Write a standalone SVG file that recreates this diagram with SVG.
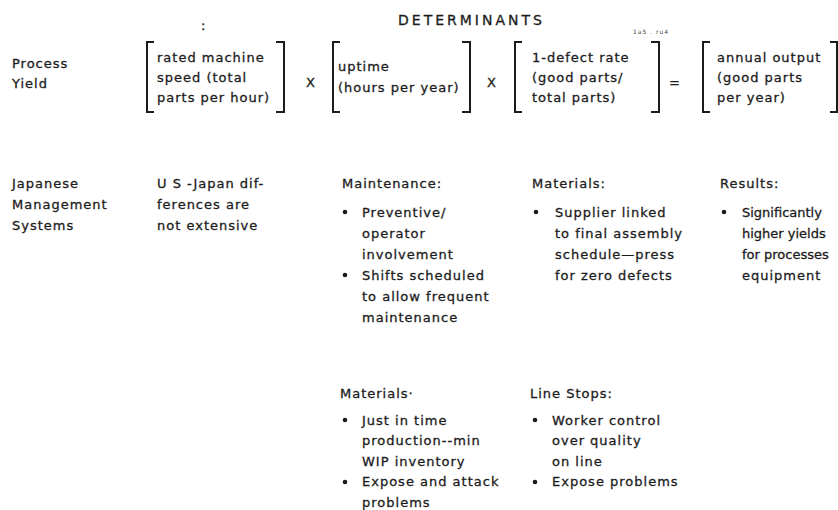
<svg xmlns="http://www.w3.org/2000/svg" width="838" height="510" viewBox="0 0 838 510">
  <style>
    .t { font-family: "DejaVu Sans", "Liberation Sans", sans-serif; font-size: 13px; letter-spacing: 1px; fill: #1c1c1c; stroke: #1c1c1c; stroke-width: 0.3; }
    .h { font-size: 14px; letter-spacing: 3px; }
    .tiny { font-size: 6px; letter-spacing: 1px; fill: #444; stroke: none; }
    .edge { letter-spacing: 0; }
    .br { fill: none; stroke: #1c1c1c; stroke-width: 2; }
    .dot { fill: #1c1c1c; }
  </style>
  <defs>
    <!-- bullet mark reused by every list -->
    <circle id="bullet" r="2.3" class="dot"/>
  </defs>
  <rect width="838" height="510" fill="#ffffff"/>

  <!-- heading -->
  <g id="heading">
    <text class="t h" x="398" y="25">DETERMINANTS</text>
    <text class="t" x="201" y="30" font-size="14">:</text>
    <text class="t tiny" x="633" y="34">1a5 . ru4</text>
  </g>

  <!-- formula row -->
  <g id="process-yield">
    <text class="t" x="12" y="68">Process</text>
    <text class="t" x="12" y="88">Yield</text>
  </g>

  <g id="machine-speed">
    <path class="br" d="M154,42 H147 V112 H154 M276,42 H284 V112 H276"/>
    <text class="t" x="157" y="62">rated machine</text>
    <text class="t" x="157" y="82">speed (total</text>
    <text class="t" x="157" y="102">parts per hour)</text>
  </g>

  <g id="times-1"><text class="t" x="311" y="87" text-anchor="middle" font-size="14">X</text></g>

  <g id="uptime">
    <path class="br" d="M340,42 H333 V112 H340 M462,42 H470 V112 H462"/>
    <text class="t" x="338" y="71">uptime</text>
    <text class="t" x="338" y="92">(hours per year)</text>
  </g>

  <g id="times-2"><text class="t" x="492" y="87" text-anchor="middle" font-size="14">X</text></g>

  <g id="defect-rate">
    <path class="br" d="M522,42 H515 V112 H522 M651,42 H659 V112 H651"/>
    <text class="t" x="532" y="62">1-defect rate</text>
    <text class="t" x="532" y="82">(good parts/</text>
    <text class="t" x="532" y="102">total parts)</text>
  </g>

  <g id="equals"><text class="t" x="675" y="87" text-anchor="middle">=</text></g>

  <g id="annual-output">
    <path class="br" d="M710,42 H703 V112 H710 M830,42 H837 V112 H830"/>
    <text class="t" x="717" y="62">annual output</text>
    <text class="t" x="717" y="82">(good parts</text>
    <text class="t" x="717" y="102">per year)</text>
  </g>

  <!-- management systems row -->
  <g id="japanese-systems">
    <text class="t" x="12" y="188">Japanese</text>
    <text class="t" x="12" y="209">Management</text>
    <text class="t" x="12" y="230">Systems</text>
  </g>

  <g id="us-japan">
    <text class="t" x="157" y="188">U S -Japan dif-</text>
    <text class="t" x="157" y="209">ferences are</text>
    <text class="t" x="157" y="230">not extensive</text>
  </g>

  <g id="maintenance">
    <text class="t" x="342" y="188">Maintenance:</text>
    <use href="#bullet" x="345" y="212"/>
    <text class="t" x="362" y="216.5">Preventive/</text>
    <text class="t" x="362" y="237.5">operator</text>
    <text class="t" x="362" y="258.5">involvement</text>
    <use href="#bullet" x="345" y="275"/>
    <text class="t" x="362" y="279.5">Shifts scheduled</text>
    <text class="t" x="362" y="300.5">to allow frequent</text>
    <text class="t" x="362" y="321.5">maintenance</text>
  </g>

  <g id="materials-supplier">
    <text class="t" x="532" y="188">Materials:</text>
    <use href="#bullet" x="536" y="212"/>
    <text class="t" x="555" y="216.5">Supplier linked</text>
    <text class="t" x="555" y="237.5">to final assembly</text>
    <text class="t" x="555" y="258.5">schedule—press</text>
    <text class="t" x="555" y="279.5">for zero defects</text>
  </g>

  <!-- right-most column sits against the page edge, so its lines are set tighter -->
  <g id="results">
    <text class="t" x="720" y="188">Results:</text>
    <use href="#bullet" x="724" y="212"/>
    <text class="t edge" x="742" y="216.5" font-size="12.8">Significantly</text>
    <text class="t edge" x="742" y="237.5" font-size="12.8">higher yields</text>
    <text class="t edge" x="742" y="258.5" font-size="12.4">for processes</text>
    <text class="t" x="742" y="279.5">equipment</text>
  </g>

  <g id="materials-jit">
    <text class="t" x="340" y="398">Materials·</text>
    <use href="#bullet" x="345" y="420"/>
    <text class="t" x="362" y="424.5">Just in time</text>
    <text class="t" x="362" y="445">production--min</text>
    <text class="t" x="362" y="465.5">WIP inventory</text>
    <use href="#bullet" x="345" y="482"/>
    <text class="t" x="362" y="486">Expose and attack</text>
    <text class="t" x="362" y="506.5">problems</text>
  </g>

  <g id="line-stops">
    <text class="t" x="530" y="398">Line Stops:</text>
    <use href="#bullet" x="535" y="420"/>
    <text class="t" x="552" y="424.5">Worker control</text>
    <text class="t" x="552" y="445">over quality</text>
    <text class="t" x="552" y="465.5">on line</text>
    <use href="#bullet" x="535" y="482"/>
    <text class="t" x="552" y="486">Expose problems</text>
  </g>

  <!-- no connectors in this figure -->
  <g id="connectors"/>
</svg>
